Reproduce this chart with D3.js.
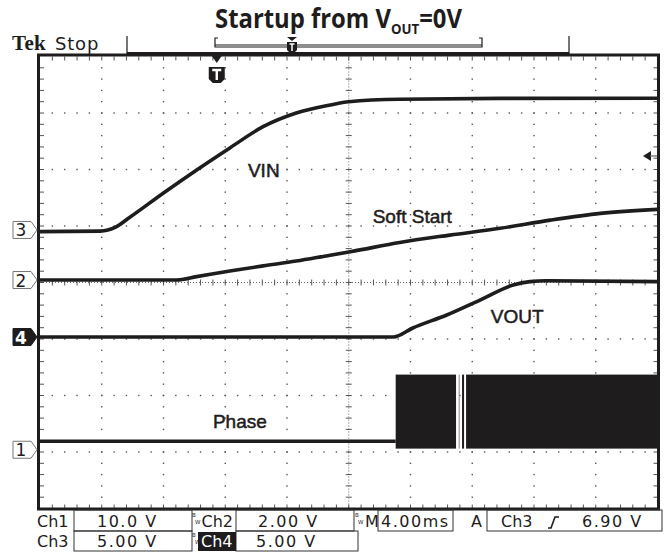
<!DOCTYPE html>
<html>
<head>
<meta charset="utf-8">
<script src="https://cdn.jsdelivr.net/npm/d3@7"></script>
<style>
body { margin: 0; background: #fff; }
svg { display: block; }
</style>
</head>
<body>
<svg id="chart" width="671" height="556"></svg>
<script>
// ---- data (time in ms, values in volts) ----
const timeDomain = [0, 40];          // 10 div x 4.00 ms
const triggerTime = 11.45;
const triggerLevel = 6.90;           // Ch3 rising

const vinTrace = [[0, -0.15], [3.9, -0.1], [4.4, 0.0], [4.9, 0.25], [5.8, 1.1], [8.0, 3.27], [10.15, 5.31],
  [12.3, 7.26], [14.45, 9.14], [16.6, 10.35], [18.8, 11.06], [20.0, 11.35], [23.3, 11.57],
  [29.8, 11.64], [40, 11.65]];
const softStartTrace = [[0, 0], [8.85, 0], [10.15, 0.12], [12.3, 0.32], [14.45, 0.5], [16.6, 0.67],
  [18.8, 0.88], [20.1, 1.0], [23.3, 1.33], [26.55, 1.59], [29.8, 1.83], [33.05, 2.12],
  [36.3, 2.36], [40, 2.5]];
const voutTrace = [[0, 0], [22.9, 0], [24.15, 0.8], [26.35, 1.95], [28.5, 3.27], [30.65, 4.6],
  [31.75, 4.9], [32.8, 4.98], [40, 4.9]];
const phaseTrace = [[0, 1.5], [23.04, 1.5]];
// switching bursts on the phase node: [start, end] ms, swinging between low and high
const phaseBursts = [[23.04, 26.95], [27.12, 27.17], [27.34, 27.47], [27.6, 40]];
const phaseSwing = [0.2, 13.3];

// channel settings: volts/div and ground position (div above centre)
const channels = [
  { id: "1", vdiv: 10, pos: -2.96, label: "Phase", lt: 11.2, lv: 3.9 },
  { id: "2", vdiv: 2, pos: 0.044, label: "Soft Start", lt: 21.55, lv: 2.03 },
  { id: "3", vdiv: 5, pos: 0.93, label: "VIN", lt: 13.47, lv: 4.69 },
  { id: "4", vdiv: 5, pos: -0.965, label: "VOUT", lt: 29.2, lv: 1.21 }
];

const statusRow1 = ["Ch1", "10.0 V", "Ch2", "2.00 V", "M", "4.00ms", "A", "Ch3", "6.90 V"];
const statusRow2 = ["Ch3", "5.00 V", "Ch4", "5.00 V"];

// ---- layout ----
const svg = d3.select("#chart");
const plot = { left: 40, right: 657.5, top: 56.5, bottom: 508.5 };
const ink = "#1e1c1d";

const x = d3.scaleLinear().domain(timeDomain).range([plot.left, plot.right]);
const gx = d3.scaleLinear().domain([0, 10]).range([plot.left, plot.right]);
const gy = d3.scaleLinear().domain([4, -4]).range([plot.top, plot.bottom]);
const divPx = gy(0) - gy(1);

channels.forEach(c => {
  c.y = d3.scaleLinear().domain([0, c.vdiv]).range([gy(c.pos), gy(c.pos) - divPx]);
});
const ch = id => channels.find(c => c.id === id);

// ---- graticule ----
const grid = svg.append("g");
const dots = [];
for (let i = 1; i < 10; i++) {
  if (i === 5) continue;
  for (let k = 1; k < 40; k++) dots.push([gx(i), gy(-4 + k / 5)]);
}
for (let j = -3; j <= 3; j++) {
  if (j === 0) continue;
  for (let k = 1; k < 50; k++) dots.push([gx(k / 5), gy(j)]);
}
grid.selectAll("rect.dot").data(dots).enter().append("rect")
  .attr("class", "dot")
  .attr("x", d => d[0] - 0.7).attr("y", d => d[1] - 0.7)
  .attr("width", 1.4).attr("height", 1.4)
  .attr("fill", "#555");

// centre cross with ticks
grid.append("line")
  .attr("x1", gx(5)).attr("x2", gx(5)).attr("y1", plot.top).attr("y2", plot.bottom)
  .attr("stroke", "#666").attr("stroke-width", 1).attr("stroke-dasharray", "1,2");
grid.append("line")
  .attr("y1", gy(0)).attr("y2", gy(0)).attr("x1", plot.left).attr("x2", plot.right)
  .attr("stroke", "#666").attr("stroke-width", 1).attr("stroke-dasharray", "1,2");
const minorY = d3.range(1, 40).map(k => gy(-4 + k / 5));
const minorX = d3.range(1, 50).map(k => gx(k / 5));
grid.selectAll("line.cty").data(minorY).enter().append("line")
  .attr("x1", gx(5) - 3).attr("x2", gx(5) + 3).attr("y1", d => d).attr("y2", d => d)
  .attr("stroke", "#555");
grid.selectAll("line.ctx").data(minorX).enter().append("line")
  .attr("y1", gy(0) - 3).attr("y2", gy(0) + 3).attr("x1", d => d).attr("x2", d => d)
  .attr("stroke", "#555");

// edge ticks
grid.selectAll("line.et").data(minorX).enter().append("line")
  .attr("x1", d => d).attr("x2", d => d).attr("y1", plot.top).attr("y2", plot.top + 4)
  .attr("stroke", "#555");
grid.selectAll("line.eb").data(minorX).enter().append("line")
  .attr("x1", d => d).attr("x2", d => d).attr("y1", plot.bottom - 4).attr("y2", plot.bottom)
  .attr("stroke", "#555");
grid.selectAll("line.el").data(minorY).enter().append("line")
  .attr("y1", d => d).attr("y2", d => d).attr("x1", plot.left).attr("x2", plot.left + 4)
  .attr("stroke", "#555");
grid.selectAll("line.er").data(minorY).enter().append("line")
  .attr("y1", d => d).attr("y2", d => d).attr("x1", plot.right - 4).attr("x2", plot.right)
  .attr("stroke", "#555");

// ---- traces ----
const traces = svg.append("g")
  .attr("fill", "none").attr("stroke", ink).attr("stroke-width", 3.6)
  .attr("stroke-linejoin", "round").attr("stroke-linecap", "butt");

const lineFor = c => d3.line().x(d => x(d[0])).y(d => c.y(d[1])).curve(d3.curveMonotoneX);

traces.append("path").attr("d", lineFor(ch("3"))(vinTrace));
traces.append("path").attr("d", lineFor(ch("2"))(softStartTrace));
traces.append("path").attr("d", lineFor(ch("4"))(voutTrace));
traces.append("path").attr("d", lineFor(ch("1"))(phaseTrace));

svg.append("g").selectAll("rect").data(phaseBursts).enter().append("rect")
  .attr("x", d => x(d[0]))
  .attr("width", d => Math.max(1, x(d[1]) - x(d[0])))
  .attr("y", ch("1").y(phaseSwing[1]))
  .attr("height", ch("1").y(phaseSwing[0]) - ch("1").y(phaseSwing[1]))
  .attr("fill", (d, i) => (d[1] - d[0] < 0.1 ? "#888" : ink));

// trace labels
svg.append("g").selectAll("text").data(channels).enter().append("text")
  .attr("x", c => x(c.lt)).attr("y", c => c.y(c.lv))
  .attr("font-family", "Liberation Sans, Arial, sans-serif")
  .attr("font-size", 19)
  .attr("fill", ink).attr("stroke", ink).attr("stroke-width", 0.5)
  .text(c => c.label);

// ---- frame ----
svg.append("rect")
  .attr("x", 38.5).attr("y", 55).attr("width", 620).attr("height", 454)
  .attr("fill", "none").attr("stroke", ink).attr("stroke-width", 3);

// channel ground markers
const mk = svg.append("g").selectAll("g").data(channels).enter().append("g")
  .attr("transform", c => `translate(0,${c.y(0)})`);
mk.append("path")
  .attr("d", "M13,-8.5 L31,-8.5 L37,0 L31,8.5 L13,8.5 Z")
  .attr("fill", c => (c.id === "4" ? ink : "#fff"))
  .attr("stroke", c => (c.id === "4" ? ink : "#777"))
  .attr("stroke-width", 1);
mk.append("text")
  .attr("x", 21).attr("y", 6.5).attr("text-anchor", "middle")
  .attr("font-family", "DejaVu Sans, sans-serif").attr("font-size", 17)
  .attr("fill", c => (c.id === "4" ? "#fff" : ink))
  .attr("font-weight", c => (c.id === "4" ? "bold" : "normal"))
  .text(c => c.id);

// trigger position marker
const tx = x(triggerTime);
svg.append("path").attr("d", `M${tx - 7},53 L${tx + 7},53 L${tx},63 Z`).attr("fill", ink);
svg.append("path")
  .attr("d", `M${tx - 8},67 L${tx + 8},67 L${tx + 8},79 L${tx + 4},83 L${tx - 4},83 L${tx - 8},79 Z`)
  .attr("fill", ink);
svg.append("path")
  .attr("d", `M${tx - 4.5},70 L${tx + 4.5},70 M${tx},70 L${tx},80`)
  .attr("stroke", "#fff").attr("stroke-width", 2.4);

// trigger level arrow (right side)
const ty = ch("3").y(triggerLevel) + 4;
svg.append("path").attr("d", `M643,${ty} L651,${ty - 5} L651,${ty + 5} Z`).attr("fill", ink);
svg.append("line").attr("x1", 650).attr("x2", 657).attr("y1", ty).attr("y2", ty)
  .attr("stroke", "#666").attr("stroke-width", 1.2);

// ---- header: record bar, Tek Stop, title ----
const hdr = svg.append("g").attr("stroke", ink).attr("fill", "none");
hdr.append("line").attr("x1", 127).attr("x2", 127).attr("y1", 36).attr("y2", 54).attr("stroke-width", 1.2);
hdr.append("line").attr("x1", 569).attr("x2", 569).attr("y1", 36).attr("y2", 54).attr("stroke-width", 1.2);
hdr.append("line").attr("x1", 127).attr("x2", 569).attr("y1", 53).attr("y2", 53).attr("stroke-width", 2);
hdr.append("path").attr("d", "M218,38 L215,38 L215,47 L482,47 L482,38 L479,38").attr("stroke-width", 1.2);
hdr.append("line").attr("x1", 215).attr("x2", 482).attr("y1", 45).attr("y2", 45).attr("stroke-width", 1);
svg.append("path").attr("d", "M287,37 L297,37 L292,41 Z").attr("fill", ink);
svg.append("path").attr("d", "M287,42 L297,42 L297,50 L295,52 L289,52 L287,50 Z").attr("fill", ink);
svg.append("path").attr("d", "M289.5,44 L294.5,44 M292,44 L292,51").attr("stroke", "#fff").attr("stroke-width", 1.5);

svg.append("text").attr("x", 12).attr("y", 50)
  .attr("font-family", "Liberation Serif, serif").attr("font-weight", "bold")
  .attr("font-size", 21).attr("letter-spacing", 0.3).attr("fill", ink).text("Tek");
svg.append("text").attr("x", 55).attr("y", 50)
  .attr("font-family", "DejaVu Sans, sans-serif")
  .attr("font-size", 18).attr("letter-spacing", 0.8).attr("fill", ink).text("Stop");

const title = svg.append("text")
  .attr("font-family", "Open Sans, sans-serif").attr("font-weight", 700)
  .attr("font-size", 27).attr("fill", ink);
title.append("tspan").text("Startup from V");
title.append("tspan").attr("font-size", 15).attr("dy", 6).text("OUT");
title.append("tspan").attr("dy", -6).text("=0V");
const tw = title.node().getComputedTextLength();
title.attr("transform", `translate(215,28) scale(${247 / tw},1)`);

// ---- status bar ----
const sb = svg.append("g").attr("font-family", "DejaVu Sans, sans-serif")
  .attr("font-size", 16).attr("fill", ink);
const boxes = [[74, 192, 510, 531], [236, 354, 510, 531], [378, 453, 510, 531], [487, 662, 510, 531],
  [74, 192, 531, 551], [236, 358, 531, 551]];
sb.selectAll("rect.box").data(boxes).enter().append("rect")
  .attr("x", d => d[0]).attr("y", d => d[2])
  .attr("width", d => d[1] - d[0]).attr("height", d => d[3] - d[2])
  .attr("fill", "none").attr("stroke", "#333").attr("stroke-width", 1);
sb.append("rect").attr("x", 198).attr("y", 532).attr("width", 38).attr("height", 19).attr("fill", ink);

const row1X = [37, 97, 201.5, 258, 365, 381, 471, 501, 582];
const row2X = [37, 97, 201, 256];
const spaced = [1, 3, 5, 8];
sb.selectAll("text.r1").data(statusRow1).enter().append("text")
  .attr("x", (d, i) => row1X[i]).attr("y", 527)
  .attr("letter-spacing", (d, i) => (spaced.includes(i) ? 1.5 : 0))
  .text(d => d);
sb.selectAll("text.r2").data(statusRow2).enter().append("text")
  .attr("x", (d, i) => row2X[i]).attr("y", 547)
  .attr("letter-spacing", (d, i) => (i % 2 ? 1.5 : 0))
  .attr("fill", (d, i) => (i === 2 ? "#fff" : ink))
  .text(d => d);

// bandwidth-limit glyphs: small B raised, W lowered
const bwMarks = [[192, 517], [355, 517], [192, 537]];
bwMarks.forEach(p => {
  sb.append("text").attr("x", p[0]).attr("y", p[1]).attr("font-size", 5.5).text("B");
  sb.append("text").attr("x", p[0] + 3).attr("y", p[1] + 7).attr("font-size", 5.5).text("W");
});
// rising-edge symbol
sb.append("path").attr("d", "M548,528 L551,528 L555,517 L559,517")
  .attr("fill", "none").attr("stroke", ink).attr("stroke-width", 1.6);
</script>
</body>
</html>
